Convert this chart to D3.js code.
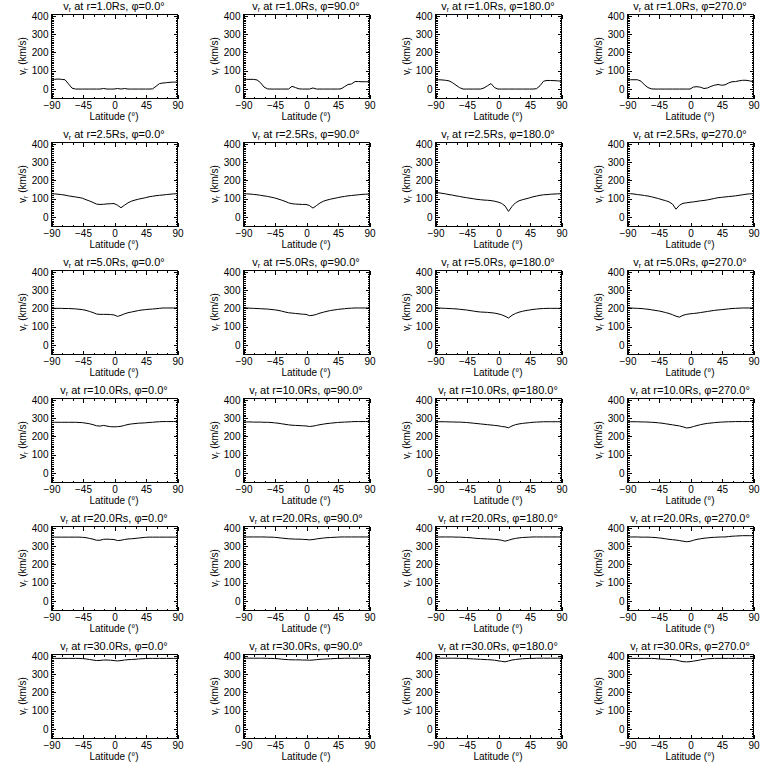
<!DOCTYPE html>
<html>
<head>
<meta charset="utf-8">
<script src="https://cdn.jsdelivr.net/npm/d3@7"></script>
<style>
  html, body { margin: 0; padding: 0; background: #fff; }
  svg { display: block; }
  text { font-family: "Liberation Sans", Arial, sans-serif; fill: #000; }
</style>
</head>
<body>
<svg id="chart" width="768" height="768"></svg>
<script>
// ---- data ----
const radii = ["1.0", "2.5", "5.0", "10.0", "20.0", "30.0"];
const phis = ["0.0", "90.0", "180.0", "270.0"];
const latitude = [-90,-85,-80,-75,-70,-65,-60,-55,-50,-45,-40,-35,-30,-25,-20,-15,-10,-5,0,5,10,15,20,25,30,35,40,45,50,55,60,65,70,75,80,85,90];
const xTicks = [-90, -45, 0, 45, 90];
const yTicks = [0, 100, 200, 300, 400];

// r = 1.0 Rs
const v_r1_p0   = [45,50,52,50,48,25,2,-3,-3,-3,-3,-3,-3,-3,-3,0,-3,-3,-3,0,-3,0,-3,-3,-3,-3,-3,-3,-3,-2,12,27,30,32,34,35,35];
const v_r1_p90  = [45,50,50,50,47,32,8,-2,-3,-3,-3,-3,-3,-3,12,5,-2,-3,-3,-3,3,-3,-3,-3,-3,-3,-3,-3,-2,10,22,25,38,38,37,37,37];
const v_r1_p180 = [48,48,47,45,42,32,18,5,-3,-3,-3,-3,-3,-3,3,15,27,5,-3,-3,-3,-3,-3,-3,-3,-3,-3,-3,-3,-1,15,40,44,44,43,42,40];
const v_r1_p270 = [48,48,48,48,40,20,5,-2,-3,-3,-3,-3,-3,-3,-3,-3,-3,-3,-3,8,10,7,0,3,12,18,22,18,20,30,37,38,42,45,45,42,38];
// r = 2.5 Rs
const v_r2_p0   = [125,124,122,120,117,113,110,107,104,100,92,85,77,68,66,67,69,70,71,62,48,62,75,84,90,95,99,103,108,111,114,116,118,120,122,124,125];
const v_r2_p90  = [125,124,123,121,119,116,113,110,106,102,96,90,83,75,70,68,67,66,66,60,46,60,74,84,90,95,99,103,107,110,113,115,117,119,121,122,123];
const v_r2_p180 = [133,130,127,124,120,117,113,110,106,103,100,97,94,92,90,89,87,84,79,72,58,28,55,75,86,92,97,102,108,112,116,119,120,122,123,124,125];
const v_r2_p270 = [127,125,123,120,118,115,112,108,103,98,92,87,80,68,40,62,72,75,78,80,83,86,88,91,95,99,103,105,107,109,111,113,116,119,122,124,125];
// r = 5.0 Rs
const v_r5_p0   = [198,198,198,198,197,197,196,195,193,191,187,181,175,167,165,165,165,164,162,154,160,168,174,178,182,186,189,191,193,194,196,198,200,200,200,200,200];
const v_r5_p90  = [200,200,199,198,197,196,195,194,192,190,187,183,178,174,172,170,168,166,165,158,160,165,172,177,182,186,189,192,194,196,198,199,200,200,200,200,200];
const v_r5_p180 = [200,200,199,198,197,196,195,193,191,189,186,183,180,178,177,176,174,172,168,163,155,145,160,170,177,182,186,189,192,194,196,197,198,198,198,198,198];
const v_r5_p270 = [200,200,199,198,197,195,193,190,187,184,180,175,170,163,155,150,160,165,168,170,172,175,178,181,184,187,189,191,193,195,197,198,199,200,200,200,200];
// r = 10.0 Rs
const v_r10_p0   = [275,275,275,275,275,275,275,275,274,273,270,267,262,256,254,258,254,251,250,251,253,258,263,266,268,270,271,272,274,275,277,278,279,279,279,279,279];
const v_r10_p90  = [277,277,277,276,276,276,275,275,274,272,270,267,264,261,259,258,257,256,255,252,254,258,262,265,268,270,272,274,275,276,277,278,279,279,279,279,279];
const v_r10_p180 = [278,278,278,278,277,277,276,276,275,274,272,270,268,266,264,262,260,258,256,252,250,245,255,262,266,269,271,273,275,276,277,278,278,278,278,278,278];
const v_r10_p270 = [278,278,278,278,277,277,276,275,274,272,270,267,264,261,258,255,250,244,246,252,257,262,266,269,271,273,275,276,277,278,278,279,279,279,279,279,279];
// r = 20.0 Rs
const v_r20_p0   = [347,347,347,347,347,347,347,347,347,346,344,340,336,330,330,335,336,335,334,328,330,334,337,338,340,342,344,346,347,347,347,347,347,347,347,347,347];
const v_r20_p90  = [348,348,348,348,348,348,348,347,347,346,344,342,340,338,337,336,336,335,334,332,334,337,340,342,344,345,346,347,348,348,348,348,348,348,348,348,348];
const v_r20_p180 = [348,348,348,348,348,348,347,347,346,345,344,342,340,339,338,337,336,335,333,330,325,330,336,340,343,345,346,347,348,348,348,348,348,348,348,348,348];
const v_r20_p270 = [348,348,348,348,347,347,347,346,345,343,341,338,335,333,331,328,325,322,324,330,335,338,341,343,345,346,347,348,348,350,352,353,354,355,355,355,355];
// r = 30.0 Rs
const v_r30_p0   = [384,384,384,384,384,384,384,384,384,383,381,378,375,372,373,375,375,374,372,370,372,375,377,378,379,381,382,383,384,384,384,384,384,384,384,384,384];
const v_r30_p90  = [385,385,385,385,385,385,385,384,384,383,382,380,378,377,376,376,376,375,375,374,375,377,379,380,381,382,383,384,384,385,385,385,385,385,385,385,385];
const v_r30_p180 = [385,385,385,385,385,385,385,384,384,383,382,381,380,379,378,377,376,374,371,368,365,370,375,378,380,382,383,384,384,385,385,385,385,385,385,385,385];
const v_r30_p270 = [384,384,384,384,384,384,384,384,383,381,380,379,378,377,375,370,366,365,366,369,372,376,379,382,383,384,384,384,384,384,384,384,384,384,384,384,384];

const series = [
  [v_r1_p0, v_r1_p90, v_r1_p180, v_r1_p270],
  [v_r2_p0, v_r2_p90, v_r2_p180, v_r2_p270],
  [v_r5_p0, v_r5_p90, v_r5_p180, v_r5_p270],
  [v_r10_p0, v_r10_p90, v_r10_p180, v_r10_p270],
  [v_r20_p0, v_r20_p90, v_r20_p180, v_r20_p270],
  [v_r30_p0, v_r30_p90, v_r30_p180, v_r30_p270]
];

// ---- layout ----
const cellW = 192, cellH = 128;
const box = { left: 51, right: 177, top: 14, bottom: 98 };

const svg = d3.select("#chart");
const x = d3.scaleLinear().domain([-90, 90]).range([box.left, box.right]);
const y = d3.scaleLinear().domain([-52, 408]).range([box.bottom, box.top]);
const xMinor = d3.range(-90, 91, 15).filter(d => !xTicks.includes(d));
const yMinor = d3.range(-50, 401, 10).filter(d => !yTicks.includes(d));

const line = d3.line().x((d, i) => x(latitude[i])).y(d => y(d));

radii.forEach((r, ri) => {
  phis.forEach((p, pi) => {
    const g = svg.append("g").attr("transform", `translate(${pi * cellW},${ri * cellH})`);

    // frame
    g.append("rect")
      .attr("x", box.left + 0.5).attr("y", box.top + 0.5)
      .attr("width", box.right - box.left).attr("height", box.bottom - box.top)
      .attr("fill", "none").attr("stroke", "#000").attr("stroke-width", 1)
      .attr("shape-rendering", "crispEdges");

    // axes (ticks inward, both sides)
    const axB = d3.axisBottom(x).tickValues(xTicks).tickSize(-4).tickPadding(3).tickFormat(d3.format("d"));
    const axT = d3.axisTop(x).tickValues(xTicks).tickSize(-4).tickFormat("");
    const axL = d3.axisLeft(y).tickValues(yTicks).tickSize(-4).tickPadding(3).tickFormat(d3.format("d"));
    const axR = d3.axisRight(y).tickValues(yTicks).tickSize(-4).tickFormat("");
    const axBm = d3.axisBottom(x).tickValues(xMinor).tickSize(-2).tickFormat("");
    const axTm = d3.axisTop(x).tickValues(xMinor).tickSize(-2).tickFormat("");
    const axLm = d3.axisLeft(y).tickValues(yMinor).tickSize(-2).tickFormat("");
    const axRm = d3.axisRight(y).tickValues(yMinor).tickSize(-2).tickFormat("");

    const place = [
      [axB, `translate(0.5,${box.bottom + 0.5})`],
      [axBm, `translate(0.5,${box.bottom + 0.5})`],
      [axT, `translate(0.5,${box.top + 0.5})`],
      [axTm, `translate(0.5,${box.top + 0.5})`],
      [axL, `translate(${box.left + 0.5},0.5)`],
      [axLm, `translate(${box.left + 0.5},0.5)`],
      [axR, `translate(${box.right + 0.5},0.5)`],
      [axRm, `translate(${box.right + 0.5},0.5)`]
    ];
    place.forEach(([ax, tr]) => {
      const a = g.append("g").attr("transform", tr).call(ax);
      a.select(".domain").remove();
      a.selectAll("line").attr("stroke", "#000").attr("shape-rendering", "crispEdges");
      a.selectAll("text").attr("font-size", 10).attr("font-family", "Liberation Sans, Arial, sans-serif").attr("fill", "#000");
    });

    // data curve
    g.append("path")
      .datum(series[ri][pi])
      .attr("d", line)
      .attr("fill", "none").attr("stroke", "#000").attr("stroke-width", 1);

    // title
    const cx = (box.left + box.right) / 2;
    const t = g.append("text").attr("x", cx).attr("y", 10).attr("text-anchor", "middle").attr("font-size", 11);
    t.append("tspan").text("v");
    t.append("tspan").attr("font-size", 7).attr("dy", 2).text("r");
    t.append("tspan").attr("dy", -2).text(` at r=${r}Rs, \u03c6=${p}\u00b0`);

    // x label
    g.append("text").attr("x", cx).attr("y", 120).attr("text-anchor", "middle").attr("font-size", 10)
      .text("Latitude (\u00b0)");

    // y label
    const yl = g.append("text")
      .attr("transform", `translate(26,${(box.top + box.bottom) / 2}) rotate(-90)`)
      .attr("text-anchor", "middle").attr("font-size", 10);
    yl.append("tspan").text("v");
    yl.append("tspan").attr("font-size", 7).attr("dy", 2).text("r");
    yl.append("tspan").attr("dy", -2).text(" (km/s)");
  });
});
</script>
</body>
</html>
